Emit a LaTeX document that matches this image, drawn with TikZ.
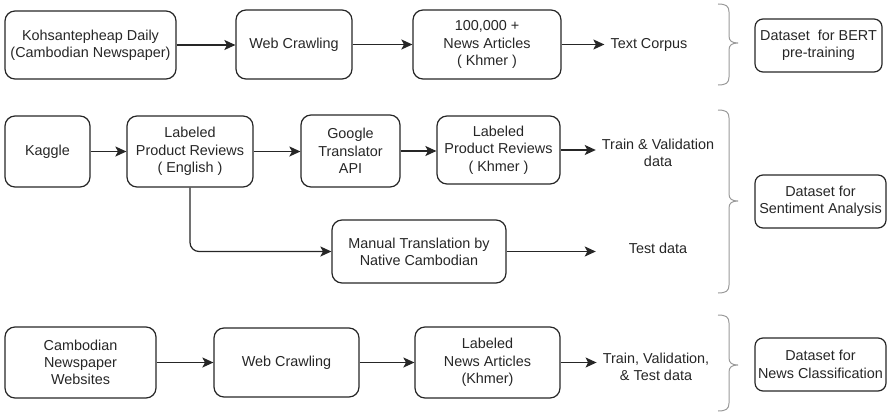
\documentclass[tikz,border=0pt]{standalone}
\usepackage{fontspec}
\setmainfont{Liberation Sans}
\usetikzlibrary{arrows.meta}
\definecolor{txtc}{HTML}{262626}
\definecolor{brc}{HTML}{9A9A9A}
\newcommand{\mybrace}[3]{%
  \draw[bracestyle] (718,#1) .. controls (726,#1) and (729,{#1+2}) .. (729,{#1+8})
    -- (729,{#2-7}) .. controls (729,{#2-2}) and (732,#2) .. (738,#2)
    .. controls (732,#2) and (729,{#2+2}) .. (729,{#2+7})
    -- (729,{#3-8}) .. controls (729,{#3-2}) and (726,#3) .. (718,#3);}
\begin{document}
\begin{tikzpicture}[x=1pt,y=-1pt,
  every node/.style={font=\fontsize{14.4}{17.3}\selectfont, text=txtc},
  box/.style={draw=black!85, rounded corners=10pt, line width=1.2pt, align=center, inner sep=0pt},
  txt/.style={align=center, inner sep=6pt},
  arr/.style={-{Stealth[length=11pt,width=10pt,inset=2.5pt]}, line width=1.2pt, draw=black!85},
  bracestyle/.style={draw=brc, line width=1pt}]
\useasboundingbox (0,0) rectangle (893,412);
% row 1
\node[box, minimum width=171pt, minimum height=68pt] (r1a) at (90.5,45) {Kohsantepheap Daily\\(Cambodian Newspaper)};
\node[box, minimum width=116pt, minimum height=69pt] (r1b) at (294,44.5) {Web Crawling};
\node[box, minimum width=148pt, minimum height=69pt] (r1c) at (487,44.5) {100,000 +\\News Articles\\( Khmer )};
\node[txt] (tc) at (649,45) {Text Corpus};
\node[box, rounded corners=8pt, minimum width=127pt, minimum height=53pt] (bert) at (818.5,45.5) {Dataset\ \ for BERT\\pre-training};
\draw[arr] (r1a.east) -- (r1b.west |- r1a.east);
\draw[arr] (r1b.east) -- (r1c.west |- r1b.east);
\draw[arr] (r1c.east) -- (tc.west |- r1c.east);
\mybrace{4}{43}{85}
% row 2
\node[box, minimum width=85pt, minimum height=71pt] (kag) at (47.5,151.5) {Kaggle};
\node[box, minimum width=126pt, minimum height=71pt] (eng) at (190,151.5) {Labeled\\Product Reviews\\( English )};
\node[box, minimum width=99pt, minimum height=72pt] (goo) at (350.5,151) {Google\\Translator\\API};
\node[box, minimum width=123pt, minimum height=68pt] (khm) at (498.5,150) {Labeled\\Product Reviews\\( Khmer )};
\node[txt] (tv) at (658,153) {Train \& Validation\\data};
\node[box, minimum width=174pt, minimum height=63pt] (man) at (419,251.5) {Manual Translation by\\Native Cambodian};
\node[txt] (test) at (658,248) {Test data};
\node[box, rounded corners=8pt, minimum width=131pt, minimum height=53pt] (sent) at (820.5,201.5) {Dataset for\\Sentiment Analysis};
\draw[arr] (kag.east) -- (eng.west |- kag.east);
\draw[arr] (eng.east) -- (goo.west |- eng.east);
\draw[arr] (goo.east) -- (khm.west |- goo.east);
\draw[arr] (khm.east) -- (tv.west |- khm.east);
\draw[arr, rounded corners=9pt] (eng.south) -- (eng.south |- man.west) -- (man.west);
\draw[arr] (man.east) -- (man.east -| tv.west);
\mybrace{110}{201}{293}
% row 3
\node[box, minimum width=151pt, minimum height=71pt] (cnw) at (80.5,362.5) {Cambodian\\Newspaper\\Websites};
\node[box, minimum width=145pt, minimum height=69pt] (wc2) at (286.5,362.5) {Web Crawling};
\node[box, minimum width=145pt, minimum height=71pt] (lna) at (487.5,362.5) {Labeled\\News Articles\\(Khmer)};
\node[txt] (tvt) at (656,367) {Train, Validation,\\\& Test data};
\node[box, rounded corners=8pt, minimum width=131pt, minimum height=53pt] (news) at (820.5,364.5) {Dataset for\\News Classification};
\draw[arr] (cnw.east) -- (wc2.west |- cnw.east);
\draw[arr] (wc2.east) -- (lna.west |- wc2.east);
\draw[arr] (lna.east) -- (tvt.west |- lna.east);
\mybrace{315}{365}{411}
\end{tikzpicture}
\end{document}
